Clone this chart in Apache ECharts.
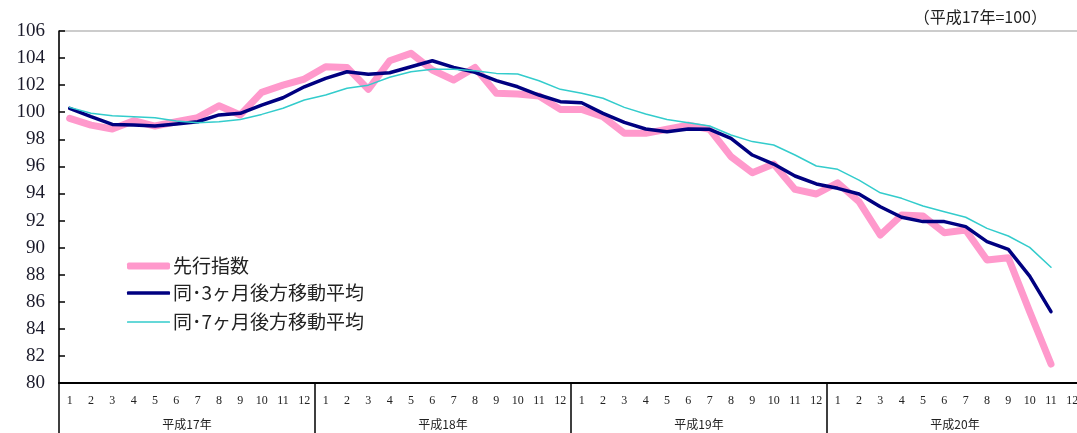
<!DOCTYPE html>
<html>
<head>
<meta charset="utf-8">
<script src="https://cdn.jsdelivr.net/npm/echarts@6/dist/echarts.min.js"></script>
<style>
  html, body { margin: 0; padding: 0; background: #fff; overflow: hidden; }
  /* the last month column runs a few pixels past the page edge */
  #chart { width: 1083px; height: 433px; }
</style>
</head>
<body>
<div id="chart"></div>
<script>
// Months (平成17年1月 – 平成20年12月)
const months = ['1','2','3','4','5','6','7','8','9','10','11','12'];
const years = ['平成17年', '平成18年', '平成19年', '平成20年'];
const categories = [];
years.forEach(function (y) { months.forEach(function (m) { categories.push(m); }); });

// 先行指数
const leadingIndex = [
  99.55, 99.05, 98.76, 99.37, 98.98, 99.30, 99.60, 100.48, 99.80, 101.47, 102.00, 102.45,
  103.36, 103.31, 101.69, 103.80, 104.35, 103.12, 102.38, 103.31, 101.40, 101.34, 101.20, 100.21,
  100.21, 99.67, 98.44, 98.44, 98.74, 99.05, 98.74, 96.72, 95.53, 96.17, 94.30, 93.96,
  94.79, 93.39, 90.93, 92.41, 92.33, 91.10, 91.30, 89.08, 89.25, 85.27, 81.40, null
];
// 同・3ヶ月後方移動平均
const movingAvg3 = [
  100.29, 99.67, 99.10, 99.05, 98.98, 99.13, 99.30, 99.80, 99.92, 100.53, 101.07, 101.88,
  102.50, 102.99, 102.80, 102.92, 103.36, 103.80, 103.31, 102.95, 102.33, 101.88, 101.27, 100.78,
  100.70, 99.92, 99.25, 98.76, 98.56, 98.76, 98.74, 98.07, 96.84, 96.17, 95.29, 94.70,
  94.38, 93.96, 93.02, 92.24, 91.92, 91.92, 91.55, 90.44, 89.87, 87.90, 85.27, null
];
// 同・7ヶ月後方移動平均
const movingAvg7 = [
  100.36, 99.92, 99.74, 99.67, 99.60, 99.35, 99.23, 99.30, 99.47, 99.84, 100.29, 100.90,
  101.27, 101.77, 102.00, 102.58, 102.99, 103.17, 103.17, 103.07, 102.87, 102.82, 102.33, 101.69,
  101.40, 101.03, 100.36, 99.87, 99.47, 99.23, 98.98, 98.32, 97.83, 97.58, 96.84, 96.03,
  95.78, 94.99, 94.05, 93.64, 93.07, 92.65, 92.24, 91.42, 90.86, 90.02, 88.55, null
];

const seriesNames = ['先行指数', '同･3ヶ月後方移動平均', '同･7ヶ月後方移動平均'];
const seriesColors = ['#ff99cc', '#000080', '#33cccc'];
const seriesWidths = [7, 3.5, 1.5];
const seriesData = [leadingIndex, movingAvg3, movingAvg7];

const serif = '"Liberation Serif", "DejaVu Serif", serif';
const cjk = '"Noto Sans CJK JP", sans-serif';

function legendFor(i, top) {
  return {
    data: [{ name: seriesNames[i], icon: 'roundRect' }],
    left: 127,
    top: top,
    padding: 0,
    itemWidth: 43,
    itemHeight: seriesWidths[i],
    itemGap: 0,
    selectedMode: false,
    itemStyle: { color: seriesColors[i] },
    textStyle: { fontFamily: cjk, fontSize: 19, color: '#222', lineHeight: 22, padding: [0, 0, 0, -2] }
  };
}

const chart = echarts.init(document.getElementById('chart'), null, { renderer: 'canvas' });
chart.setOption({
  animation: false,
  backgroundColor: '#fff',
  grid: {
    left: 59, top: 31, right: 0, bottom: 50,
    show: true, borderColor: '#999', borderWidth: 1, backgroundColor: 'transparent'
  },
  legend: [legendFor(0, 255), legendFor(1, 282), legendFor(2, 311)],
  graphic: [{
    type: 'text',
    right: 36,
    top: 9,
    style: { text: '（平成17年=100）', font: '16px ' + cjk, fill: '#222' }
  }],
  xAxis: [{
    type: 'category',
    data: categories,
    boundaryGap: true,
    position: 'bottom',
    axisLine: { show: true, lineStyle: { color: '#000', width: 2 } },
    axisTick: { show: false },
    axisLabel: { interval: 0, margin: 12, fontFamily: serif, fontSize: 12, color: '#222' },
    splitLine: { show: false }
  }, {
    type: 'category',
    data: years,
    boundaryGap: true,
    position: 'bottom',
    axisLine: { show: false },
    axisTick: { show: true, length: 50, lineStyle: { color: '#000', width: 1.5 } },
    axisLabel: { interval: 0, margin: 35, fontFamily: cjk, fontSize: 12, color: '#222' },
    splitLine: { show: false }
  }],
  yAxis: {
    type: 'value',
    min: 80, max: 106, interval: 2,
    axisLine: { show: true, lineStyle: { color: '#000', width: 1.5 } },
    axisTick: { show: true, inside: true, length: 6, lineStyle: { color: '#000', width: 1.5 } },
    axisLabel: { margin: 14, fontFamily: serif, fontSize: 19, color: '#1a1a2a' },
    splitLine: { show: false }
  },
  series: seriesData.map(function (d, i) {
    return {
      name: seriesNames[i],
      type: 'line',
      xAxisIndex: 0,
      data: d,
      symbol: 'none',
      smooth: false,
      lineStyle: { color: seriesColors[i], width: seriesWidths[i], join: 'round', cap: 'round' },
      itemStyle: { color: seriesColors[i] },
      z: 2 + i
    };
  })
});
</script>
</body>
</html>
